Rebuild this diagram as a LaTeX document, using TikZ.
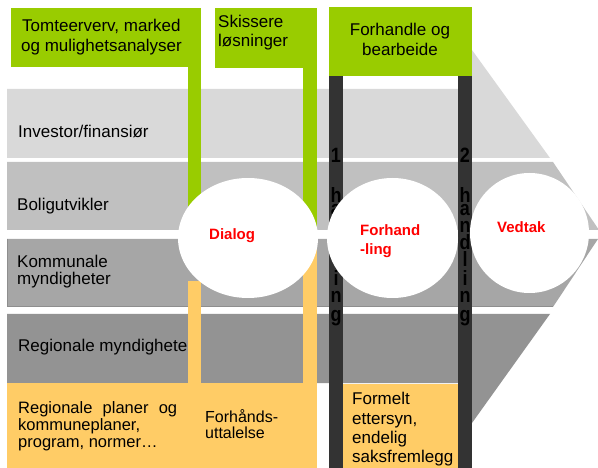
\documentclass[tikz,border=0pt]{standalone}
\usepackage{fontspec}
\setmainfont{Liberation Sans}
\usetikzlibrary{shapes.geometric}
\definecolor{bandA}{HTML}{D9D9D9}
\definecolor{bandB}{HTML}{C0C0C0}
\definecolor{bandC}{HTML}{A6A6A6}
\definecolor{bandCedge}{HTML}{8E8E8E}
\definecolor{bandD}{HTML}{939393}
\definecolor{leaf}{HTML}{99CC00}
\definecolor{sand}{HTML}{FFCC66}
\definecolor{coal}{HTML}{333333}
\definecolor{alert}{HTML}{FF0000}
\newcommand\stretchletter[1]{\scalebox{1}[1.15]{#1}}
\tikzset{
  txt/.style={anchor=base west, inner sep=0pt, font=\fontsize{17}{20}\selectfont},
  txtc/.style={anchor=base, inner sep=0pt, font=\fontsize{17}{20}\selectfont},
  redlbl/.style={anchor=base west, inner sep=0pt, text=alert, font=\bfseries\fontsize{15}{18}\selectfont},
  barletter/.style={anchor=base, inner sep=0pt, text=black, font=\bfseries\fontsize{18}{18}\selectfont},
  bubble/.style={ellipse, fill=white, inner sep=0pt},
}
\begin{document}
\begin{tikzpicture}[x=1pt,y=-1pt]
\useasboundingbox (0,0) rectangle (598,468);

% horizontal bands of the chevron
\fill[bandA] (7,89) -- (472,89) -- (472,50) -- (550,158) -- (7,158) -- cycle;
\fill[bandB] (7,162) -- (553,162) -- (599,230) -- (7,230) -- cycle;
\fill[bandC] (7,239) -- (598,239) -- (553,307) -- (7,307) -- cycle;
\draw[bandCedge, line width=1pt] (7.5,239) -- (7.5,306.5) -- (553,306.5);
\fill[bandD] (7,314) -- (550,314) -- (472,423) -- (472,383) -- (7,383) -- cycle;

% band labels
\node[txt] (inv) at (18,138) {Investor/finansiør};
\node[txt] (bol) at (17,211) {Boligutvikler};
\node[txt] (kom1) at (17,268) {Kommunale};
\node[txt] (kom2) at (17,284) {myndigheter};
\node[txt] (reg) at (18,352) {Regionale myndigheter};

% green phase boxes with their stems
\fill[leaf] (11,8) rectangle (201,67);
\fill[leaf] (188,67) rectangle (201,231);
\fill[leaf] (215,8) rectangle (317,68);
\fill[leaf] (303,68) rectangle (317,231);
\fill[leaf] (329,7) rectangle (472,76);

% yellow boxes with their stems
\fill[sand] (7,383) rectangle (317,468);
\fill[sand] (188,281) rectangle (201,383);
\fill[sand] (303,237) rectangle (317,383);
\fill[sand] (343,384) rectangle (458,468);

% dark bars for the two readings
\fill[coal] (329,76) rectangle (343,468);
\fill[coal] (458,76) rectangle (472,468);
\foreach \cx/\num in {336/1, 465/2}{
  \node[barletter] (d\num) at (\cx,163) {\stretchletter{\num}};
  \foreach \ch/\yy [count=\k] in {h/203, a/216, n/233, d/250, l/267, i/286, n/303, g/321}
    \node[barletter] (l\num-\k) at (\cx,\yy) {\stretchletter{\ch}};
}

% bubbles
\node[bubble, minimum width=140pt, minimum height=120pt] (dialog) at (248,238) {};
\node[bubble, minimum width=131pt, minimum height=120pt] (forhandling) at (392.5,238) {};
\node[bubble, minimum width=119pt, minimum height=120pt] (vedtak) at (529.5,233) {};
\node[redlbl] (dialogtxt) at (209,240) {Dialog};
\node[redlbl] (forh1) at (360,236) {Forhand};
\node[redlbl] (forh2) at (360,255) {-ling};
\node[redlbl] (vedtaktxt) at (497,233) {Vedtak};

% green box texts
\node[txt] (tom1) at (22,32) {Tomteerverv, marked};
\node[txt] (tom2) at (21,52) {og mulighetsanalyser};
\node[txt] (ski1) at (218,28) {Skissere};
\node[txt] (ski2) at (218,47) {løsninger};
\node[txtc] (fb1) at (400,36) {Forhandle og};
\node[txtc] (fb2) at (400,56) {bearbeide};

% yellow box texts
\node[txt, font=\fontsize{16.5}{17}\selectfont] (rp1) at (18,413) {\makebox[159pt][s]{Regionale planer og}};
\node[txt, font=\fontsize{16.5}{17}\selectfont] (rp2) at (18,430) {kommuneplaner,};
\node[txt, font=\fontsize{16.5}{17}\selectfont] (rp3) at (18,447) {program, normer…};
\node[txt, font=\fontsize{16}{17}\selectfont] (fu1) at (205,422) {Forhånds-};
\node[txt, font=\fontsize{16}{17}\selectfont] (fu2) at (205,438) {uttalelse};
\node[txt] (fe1) at (352,404) {Formelt};
\node[txt] (fe2) at (352,424) {ettersyn,};
\node[txt] (fe3) at (352,443) {endelig};
\node[txt] (fe4) at (352,462) {saksfremlegg};
\end{tikzpicture}
\end{document}
